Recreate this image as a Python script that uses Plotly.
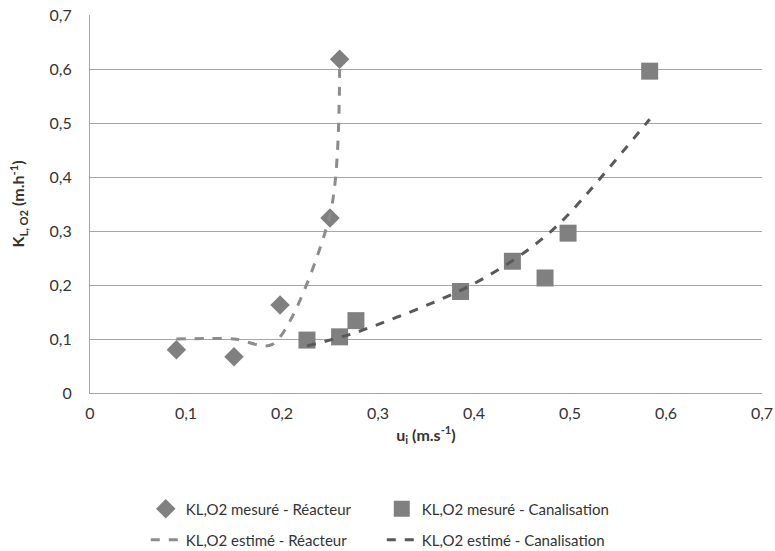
import plotly.graph_objects as go

# Mesures - Réacteur
u_reacteur = [0.090, 0.150, 0.198, 0.250, 0.260]
kl_reacteur = [0.080, 0.067, 0.163, 0.324, 0.618]

# Mesures - Canalisation
u_canal = [0.226, 0.260, 0.277, 0.386, 0.440, 0.474, 0.498, 0.583]
kl_canal = [0.098, 0.104, 0.134, 0.188, 0.244, 0.213, 0.296, 0.596]

# Estimations (courbes lissées)
u_est_reacteur = [0.090, 0.150, 0.190, 0.250, 0.260]
kl_est_reacteur = [0.100, 0.100, 0.090, 0.330, 0.600]

u_est_canal = [0.226, 0.260, 0.277, 0.386, 0.440, 0.474, 0.498, 0.583]
kl_est_canal = [0.087, 0.103, 0.112, 0.190, 0.245, 0.290, 0.330, 0.507]

font_family = "Lato, 'Open Sans', sans-serif"
text_color = '#333333'
grid_color = '#a6a6a6'

fig = go.Figure()

fig.add_trace(go.Scatter(
    x=u_reacteur, y=kl_reacteur,
    mode='markers',
    name='KL,O2 mesuré - Réacteur',
    legend='legend',
    marker=dict(symbol='diamond', size=15, color='#808080'),
))

fig.add_trace(go.Scatter(
    x=u_canal, y=kl_canal,
    mode='markers',
    name='KL,O2 mesuré - Canalisation',
    legend='legend',
    marker=dict(symbol='square', size=17, color='#808080'),
))

fig.add_trace(go.Scatter(
    x=u_est_reacteur, y=kl_est_reacteur,
    mode='lines',
    name='KL,O2 estimé - Réacteur',
    legend='legend2',
    line=dict(color='#8c8c8c', width=3, dash='dash', shape='spline', smoothing=0.8),
))

fig.add_trace(go.Scatter(
    x=u_est_canal, y=kl_est_canal,
    mode='lines',
    name='KL,O2 estimé - Canalisation',
    legend='legend2',
    line=dict(color='#595959', width=3, dash='dash', shape='spline'),
))

legend_style = dict(
    orientation='h',
    xanchor='left', yanchor='middle',
    entrywidth=191, entrywidthmode='pixels',
    font=dict(size=15, color=text_color),
    bgcolor='rgba(0,0,0,0)',
)

fig.update_layout(
    width=775, height=551,
    margin=dict(l=90, r=13, t=15, b=158, autoexpand=False),
    plot_bgcolor='white',
    paper_bgcolor='white',
    separators=', ',
    font=dict(family=font_family, size=16, color=text_color),
    showlegend=True,
    legend=dict(legend_style, x=0.083, y=-0.307),
    legend2=dict(legend_style, x=0.083, y=-0.389),
)

fig.update_xaxes(
    range=[0, 0.7], dtick=0.1,
    showgrid=False, zeroline=False,
    showline=True, linecolor=grid_color, linewidth=1,
    ticks='', ticklabelstandoff=6,
    automargin=False,
    title=dict(text='<b>u<sub>i</sub> (m.s<sup>-1</sup>)</b>', standoff=8,
               font=dict(size=16, color=text_color)),
)

fig.update_yaxes(
    range=[0, 0.7], dtick=0.1,
    showgrid=True, gridcolor=grid_color, gridwidth=1,
    zeroline=False,
    showline=True, linecolor=grid_color, linewidth=1,
    ticks='', ticklabelstandoff=14,
    automargin=False,
    title=dict(text='<b>K<sub>L, O2</sub> (m.h<sup>-1</sup>)</b>', standoff=20,
               font=dict(size=16, color=text_color)),
)

# drop the default 8px body margin so the figure sits at the window's corner
fig.write_html("out.html", config=dict(displayModeBar=False),
               post_script="document.body.style.margin='0';")
